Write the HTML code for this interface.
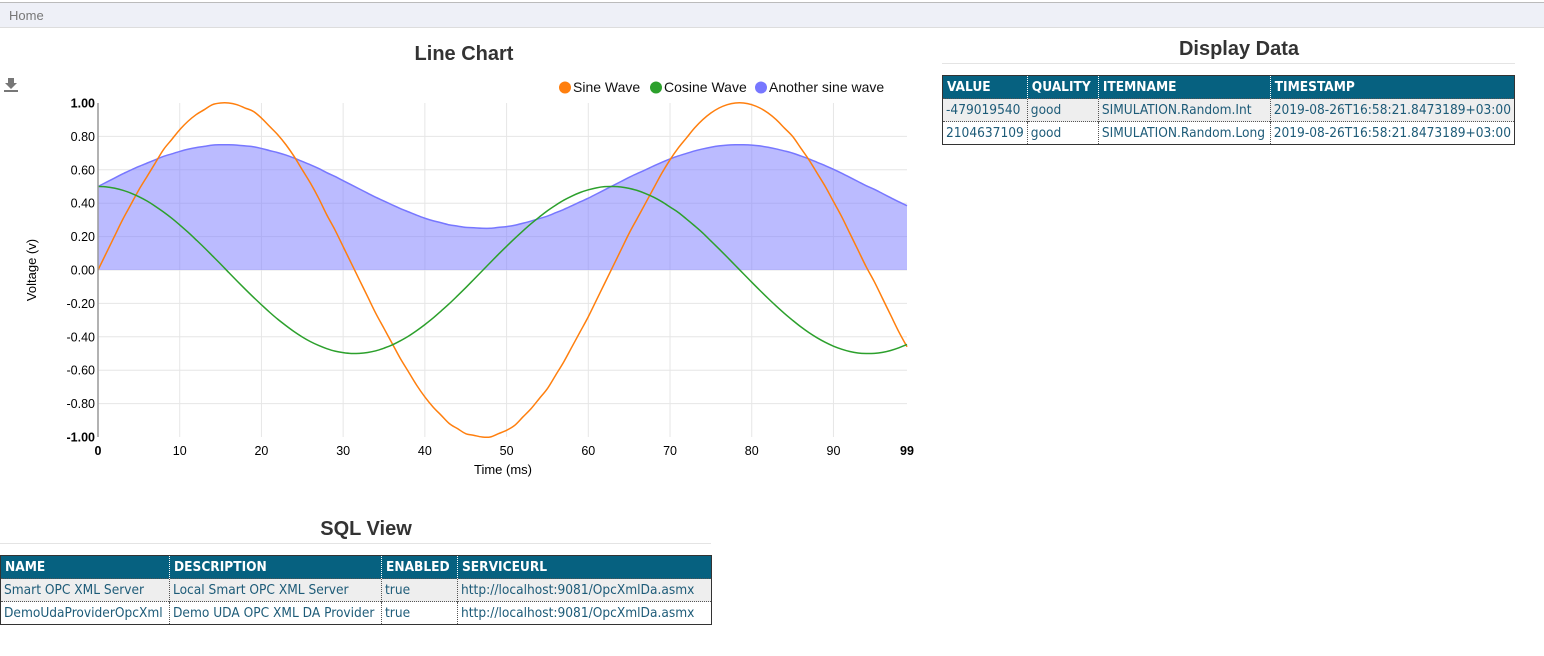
<!DOCTYPE html>
<html><head><meta charset="utf-8">
<style>
body{margin:0;width:1544px;height:656px;background:#fff;font-family:"Liberation Sans",sans-serif;position:relative;overflow:hidden}
#nav{position:absolute;left:0;top:2px;width:1544px;height:24px;background:#eef0f7;border-top:1px solid #bbb;border-bottom:1px solid #ddd}
#nav span{position:absolute;left:9px;top:5px;font-size:13px;color:#777}
h2{position:absolute;margin:0;font-size:20px;font-weight:bold;color:#333;text-align:center}
.hr{position:absolute;height:1px;background:#e4e4e4}
table{position:absolute;border-collapse:collapse;border:1px solid #333;font-family:"DejaVu Sans Condensed","Liberation Sans Narrow","DejaVu Sans",sans-serif;font-size:13.6px}
th{background:#066180;color:#fff;text-align:left;height:22px;padding:0 4px;font-weight:bold;border-left:1px dotted #fff;white-space:nowrap}
td{height:22px;padding:0 3px;color:#1d5b78;border-left:1px dotted #555;border-top:1px dotted #555;white-space:nowrap}
tr.alt td{background:#eee}
</style></head><body>
<div id="nav"><span>Home</span></div>

<h2 style="left:314px;top:43px;width:300px">Line Chart</h2>
<svg style="position:absolute;left:0;top:0" width="930" height="500">
<g fill="#777"><rect x="8" y="78" width="6" height="5"/><polygon points="5,83 17,83 11,89"/><rect x="4" y="90" width="14" height="2"/></g>
<g id="grid"></g><g id="area"></g><g id="lines"></g><g id="axes"></g>
<g id="legend" font-size="14" fill="#111">
<circle cx="565" cy="87.5" r="6" fill="#ff7f0e"/><text x="573" y="92">Sine Wave</text>
<circle cx="656" cy="87.5" r="6" fill="#2ca02c"/><text x="664" y="92">Cosine Wave</text>
<circle cx="761" cy="87.5" r="6" fill="#7777ff"/><text x="769" y="92">Another sine wave</text>
</g>
<text x="503" y="474" font-size="13" text-anchor="middle" fill="#000">Time (ms)</text>
<text transform="translate(36,270) rotate(-90)" font-size="13" text-anchor="middle" fill="#000">Voltage (v)</text>
</svg>
<script>
const sineValues=[0,0.1,0.2,0.3,0.39,0.48,0.56,0.64,0.72,0.78,0.84,0.89,0.93,0.96,0.99,1,1,0.99,0.97,0.95,0.91,0.86,0.81,0.75,0.68,0.6,0.52,0.43,0.33,0.24,0.14,0.04,-0.06,-0.16,-0.26,-0.35,-0.44,-0.53,-0.61,-0.69,-0.76,-0.82,-0.87,-0.92,-0.95,-0.98,-0.99,-1,-1,-0.98,-0.96,-0.93,-0.88,-0.83,-0.77,-0.71,-0.63,-0.55,-0.46,-0.37,-0.28,-0.18,-0.08,0.02,0.12,0.22,0.31,0.4,0.49,0.58,0.66,0.73,0.79,0.85,0.9,0.94,0.97,0.99,1,1,0.99,0.97,0.94,0.9,0.85,0.8,0.73,0.66,0.58,0.5,0.41,0.32,0.22,0.12,0.02,-0.07,-0.17,-0.27,-0.37,-0.46];
const cosineValues=[0.5,0.498,0.49,0.478,0.461,0.439,0.413,0.382,0.348,0.311,0.27,0.227,0.181,0.134,0.085,0.036,-0.015,-0.065,-0.114,-0.162,-0.208,-0.253,-0.295,-0.333,-0.369,-0.401,-0.429,-0.452,-0.471,-0.486,-0.495,-0.5,-0.499,-0.494,-0.484,-0.468,-0.449,-0.424,-0.396,-0.363,-0.327,-0.288,-0.245,-0.201,-0.154,-0.106,-0.056,-0.006,0.044,0.094,0.142,0.189,0.234,0.277,0.317,0.355,0.388,0.418,0.443,0.464,0.48,0.492,0.499,0.5,0.497,0.489,0.476,0.458,0.436,0.409,0.377,0.345,0.306,0.265,0.222,0.174,0.126,0.077,0.027,-0.023,-0.073,-0.122,-0.17,-0.216,-0.26,-0.301,-0.34,-0.375,-0.406,-0.433,-0.456,-0.474,-0.488,-0.497,-0.5,-0.499,-0.493,-0.482,-0.466,-0.446];
const anotherValues=[0.5,0.525,0.55,0.575,0.598,0.62,0.64,0.66,0.68,0.695,0.71,0.723,0.733,0.74,0.748,0.75,0.75,0.748,0.743,0.738,0.728,0.715,0.703,0.688,0.67,0.65,0.63,0.608,0.583,0.56,0.535,0.51,0.485,0.46,0.435,0.413,0.39,0.368,0.348,0.328,0.31,0.295,0.283,0.27,0.263,0.255,0.253,0.25,0.25,0.255,0.26,0.268,0.28,0.293,0.308,0.323,0.343,0.363,0.385,0.408,0.43,0.455,0.48,0.505,0.53,0.555,0.578,0.6,0.623,0.645,0.665,0.683,0.698,0.713,0.725,0.735,0.743,0.748,0.75,0.75,0.748,0.743,0.735,0.725,0.713,0.7,0.683,0.665,0.645,0.625,0.603,0.58,0.555,0.53,0.505,0.483,0.458,0.433,0.408,0.385];
const xTicks=[0,10,20,30,40,50,60,70,80,90,99];
const yTicks=[1,0.8,0.6,0.4,0.2,0,-0.2,-0.4,-0.6,-0.8,-1];
const NS='http://www.w3.org/2000/svg';
const X0=98,X1=907,Y0=103,Y1=437,xMax=99;
function xs(i){return X0+(X1-X0)*i/xMax;}
function ys(v){return Y0+(Y1-Y0)*(1-v)/2;}
function mk(tag,attrs,parent){const e=document.createElementNS(NS,tag);for(const k in attrs)e.setAttribute(k,attrs[k]);document.getElementById(parent).appendChild(e);return e;}
xTicks.forEach((t,k)=>{
 if(k>0&&k<xTicks.length-1){const g=mk('line',{x1:xs(t),x2:xs(t),y1:Y0,y2:Y1,stroke:'#e6e6e6'},'grid');
 
 }
 const tx=mk('text',{x:xs(t),y:455,'font-size':12.5,'text-anchor':'middle',fill:'#000','font-weight':(k==0||k==xTicks.length-1)?'bold':'normal'},'axes');tx.textContent=t;
 
 
});
yTicks.forEach((t,k)=>{
 if(k>0&&k<yTicks.length-1){const g=mk('line',{x1:X0,x2:X1,y1:ys(t),y2:ys(t),stroke:'#e6e6e6'},'grid');
 
 }
 const tx=mk('text',{x:95,y:ys(t)+4.5,'font-size':12.5,'text-anchor':'end',fill:'#000','font-weight':(k==0||k==yTicks.length-1)?'bold':'normal'},'axes');tx.textContent=t.toFixed(2);
 
 
});
const ax=mk('line',{x1:X0,x2:X0,y1:Y0,y2:Y1,stroke:'#999','stroke-width':1.5},'axes');


function path(arr){
 const p=arr.map((v,i)=>[xs(i),ys(v)]);
 let d='M'+p[0][0].toFixed(2)+','+p[0][1].toFixed(2);
 for(let i=0;i<p.length-1;i++){
  const a=p[Math.max(i-1,0)],b=p[i],c=p[i+1],e=p[Math.min(i+2,p.length-1)];
  const c1x=b[0]+(c[0]-a[0])/6,c1y=b[1]+(c[1]-a[1])/6,c2x=c[0]-(e[0]-b[0])/6,c2y=c[1]-(e[1]-b[1])/6;
  d+='C'+c1x.toFixed(2)+','+c1y.toFixed(2)+' '+c2x.toFixed(2)+','+c2y.toFixed(2)+' '+c[0].toFixed(2)+','+c[1].toFixed(2);
 }
 return d;
}
const ar=mk('path',{d:path(anotherValues)+'L'+xs(anotherValues.length-1)+','+ys(0)+'L'+xs(0)+','+ys(0)+'Z',fill:'rgba(119,119,255,0.5)',stroke:'none'},'area');


const l3=mk('path',{d:path(anotherValues),fill:'none',stroke:'#7777ff','stroke-width':1.5},'lines');


const l1=mk('path',{d:path(sineValues),fill:'none',stroke:'#ff7f0e','stroke-width':1.5},'lines');


const l2=mk('path',{d:path(cosineValues),fill:'none',stroke:'#2ca02c','stroke-width':1.5},'lines');


</script>

<h2 style="left:1089px;top:38px;width:300px">Display Data</h2>
<div class="hr" style="left:942px;top:63px;width:573px"></div>
<table style="left:942px;top:75px;width:573px">
<tr><th style="width:75px">VALUE</th><th style="width:66px">QUALITY</th><th style="width:165px">ITEMNAME</th><th>TIMESTAMP</th></tr>
<tr class="alt"><td>-479019540</td><td>good</td><td>SIMULATION.Random.Int</td><td>2019-08-26T16:58:21.8473189+03:00</td></tr>
<tr><td>2104637109</td><td>good</td><td>SIMULATION.Random.Long</td><td>2019-08-26T16:58:21.8473189+03:00</td></tr>
</table>

<h2 style="left:216px;top:518px;width:300px">SQL View</h2>
<div class="hr" style="left:0;top:543px;width:711px"></div>
<table style="left:0;top:555px;width:712px">
<tr><th style="width:160px">NAME</th><th style="width:203px">DESCRIPTION</th><th style="width:67px">ENABLED</th><th>SERVICEURL</th></tr>
<tr class="alt"><td>Smart OPC XML Server</td><td>Local Smart OPC XML Server</td><td>true</td><td>http://localhost:9081/OpcXmlDa.asmx</td></tr>
<tr><td>DemoUdaProviderOpcXml</td><td>Demo UDA OPC XML DA Provider</td><td>true</td><td>http://localhost:9081/OpcXmlDa.asmx</td></tr>
</table>
</body></html>
